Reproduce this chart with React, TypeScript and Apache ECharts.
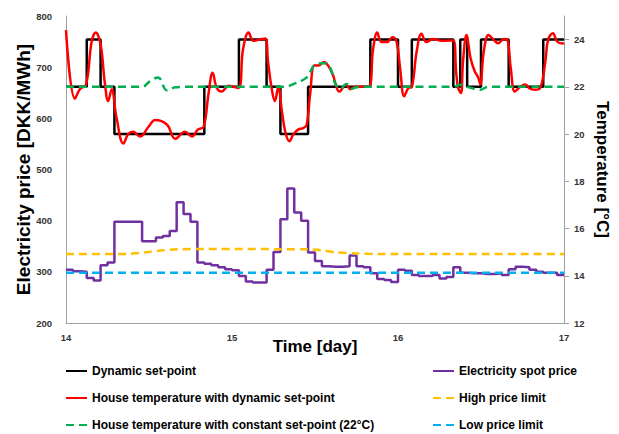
import React, { useEffect, useRef } from 'react';
import * as echarts from 'echarts';

const DAY0 = 14;
const xTicks = [14, 15, 16, 17];
const priceTicks = [200, 300, 400, 500, 600, 700, 800];
const tempTicks = [12, 14, 16, 18, 20, 22, 24];

// Dynamic set-point (hours from day 14, °C) – held until next change
const setpointHours = [0, 3, 5, 7, 20, 25, 29, 31, 35, 44, 48, 50, 56, 57, 58, 60, 64, 69, 72];
const setpointTemps = [22, 24, 22, 20, 22, 24, 22, 20, 22, 24, 22, 24, 22, 24, 22, 24, 22, 24, 24];

// House temperature with dynamic set-point
const houseDynHours = [0, 1.3, 2, 2.9, 3.7, 4.3, 5, 5.6, 6.1, 6.6, 7.3, 8.3, 9, 9.7, 10.7, 11.9, 12.9, 14.6, 15.8, 17.2, 18.2, 19.1, 19.9, 20.6, 21.2, 21.8, 22.5, 23.5, 24.9, 25.6, 26.4, 27.1, 28, 28.8, 29.2, 29.7, 30.2, 30.7, 31.2, 31.7, 32.3, 32.9, 33.6, 34.3, 34.8, 35.3, 35.9, 36.5, 37.3, 37.9, 38.6, 39, 39.5, 40.5, 41.1, 41.8, 43.7, 44.4, 45, 45.6, 46.4, 47.2, 47.8, 48.3, 48.9, 49.5, 50, 50.7, 51.4, 52.1, 53.1, 54.3, 56, 56.4, 56.7, 57.1, 57.4, 57.9, 58.5, 59.1, 59.6, 59.9, 60.4, 61.1, 61.8, 62.5, 63.3, 63.8, 64.3, 64.9, 65.6, 66.4, 67.1, 67.8, 68.6, 69.3, 69.7, 70.4, 71, 71.8, 72];
const houseDynTemps = [24.4, 21.5, 21.9, 22.1, 23.9, 24.3, 23.8, 22.2, 21.4, 21.9, 20.7, 19.6, 20.0, 20.1, 19.9, 20.3, 20.6, 20.4, 19.8, 20.1, 19.9, 20.2, 20.3, 21.7, 22.6, 21.95, 21.8, 22.05, 21.95, 23.6, 24.3, 23.95, 24.0, 24.05, 23.1, 22.0, 21.4, 22.0, 21.0, 20.1, 19.7, 20.0, 20.2, 20.25, 20.4, 21.7, 22.9, 22.9, 23.05, 22.9, 22.5, 22.1, 21.8, 22.1, 21.9, 22.0, 22.0, 23.6, 24.3, 23.9, 23.9, 24.1, 23.9, 22.8, 21.6, 21.95, 22.0, 23.5, 24.25, 23.9, 24.03, 23.95, 23.96, 22.65, 21.95, 21.74, 23.07, 24.2, 23.2, 22.65, 22.4, 22.1, 23.5, 24.2, 24.0, 23.85, 24.03, 24.0, 22.8, 21.8, 21.98, 22.1, 21.92, 21.88, 21.98, 23.07, 24.0, 24.27, 23.92, 23.84, 23.85];

// House temperature with constant set-point (22 °C)
const houseConstHours = [0, 11, 12.1, 13.3, 14.6, 15.8, 17, 31.5, 32.9, 34.8, 36, 37.4, 38.2, 38.9, 39.6, 40.6, 41.3, 42, 43, 56, 57, 58, 59.9, 61, 72];
const houseConstTemps = [22, 22, 22.23, 22.4, 21.85, 21.98, 22, 22, 22.12, 22.4, 22.93, 23.0, 22.8, 22.16, 21.92, 22.12, 21.92, 21.98, 22, 22, 22.09, 22.0, 21.88, 22, 22];

// Electricity spot price, hourly (DKK/MWh)
const spotPrice = [304, 301, 300, 288, 283, 313, 318, 398, 398, 398, 398, 360, 360, 367, 370, 380, 436, 413, 398, 318, 316, 313, 309, 305,
  303, 292, 281, 279, 279, 304, 339, 403, 463, 416, 400, 338, 321, 311, 310, 310, 311, 332, 311, 309, 297, 286, 284, 280,
  304, 302, 294, 292, 292, 294, 287, 290, 309, 298, 297, 297, 296, 296, 297, 294, 305, 310, 309, 304, 300, 298, 298, 294];

// Price limits
const highLimitHours = [0, 9, 10.5, 12, 14, 16, 20, 35, 37, 39, 42, 45, 72];
const highLimitValues = [335, 335, 337, 339, 342, 344, 344.5, 344, 342, 338, 336, 335, 335];
const lowLimitHours = [0, 72];
const lowLimitValues = [298, 298];

const FONT = 'Liberation Sans, Arial, sans-serif';

const toDay = (h: number) => DAY0 + h / 24;
const pairs = (hs: number[], vs: number[]) => hs.map((h, i) => [toDay(h), vs[i]]);

export default function App() {
  const ref = useRef<HTMLDivElement>(null);
  useEffect(() => {
    document.body.style.margin = '0';
    if (!ref.current) return;
    const chart = echarts.init(ref.current, null, { renderer: 'svg' });
    const priceData = spotPrice.map((v, i) => [toDay(i), v]);
    priceData.push([toDay(spotPrice.length), spotPrice[spotPrice.length - 1]]);

    const axisLabelStyle = { fontFamily: FONT, fontWeight: 'bold' as const, fontSize: 9.5, color: '#333' };
    const dashed = [8, 5];
    const legendCommon = {
      orient: 'vertical', top: 365, height: 80, padding: 0,
      itemWidth: 21, itemHeight: 12, itemGap: 15,
      itemStyle: { opacity: 0 },
      textStyle: { fontFamily: FONT, fontWeight: 'bold', fontSize: 12, color: '#000' },
    };

    chart.setOption({
      animation: false,
      textStyle: { fontFamily: FONT },
      grid: { left: 66, right: 55, top: 16, bottom: 111, containLabel: false },
      legend: [
        {
          ...legendCommon,
          data: ['Dynamic set-point', 'House temperature with dynamic set-point', 'House temperature with constant set-point (22°C)'],
          left: 65,
        },
        {
          ...legendCommon,
          data: ['Electricity spot price', 'High price limit', 'Low price limit'],
          left: 432,
        },
      ],
      xAxis: {
        type: 'value', min: xTicks[0], max: xTicks[xTicks.length - 1], interval: 1,
        name: 'Time [day]', nameLocation: 'middle', nameGap: 15, nameMoveOverlap: false,
        nameTextStyle: { fontFamily: FONT, fontWeight: 'bold', fontSize: 17, color: '#000' },
        axisLine: { lineStyle: { color: '#a0a0a0', width: 1 } },
        axisTick: { show: false },
        axisLabel: { ...axisLabelStyle, margin: 9 },
        splitLine: { show: false },
      },
      yAxis: [
        {
          type: 'value', min: priceTicks[0], max: priceTicks[priceTicks.length - 1], interval: 100,
          name: 'Electricity price [DKK/MWh]', nameLocation: 'middle', nameGap: 33, nameMoveOverlap: false,
          nameTextStyle: { fontFamily: FONT, fontWeight: 'bold', fontSize: 19, color: '#000' },
          axisLine: { show: true, lineStyle: { color: '#a0a0a0', width: 1 } },
          axisTick: { show: false },
          axisLabel: { ...axisLabelStyle, margin: 14 },
          splitLine: { show: false },
        },
        {
          type: 'value', position: 'right', min: 12, max: 25, interval: 2,
          name: 'Temperature [°C]', nameLocation: 'middle', nameGap: 30, nameRotate: -90, nameMoveOverlap: false,
          nameTextStyle: { fontFamily: FONT, fontWeight: 'bold', fontSize: 17, color: '#000' },
          axisLine: { show: true, lineStyle: { color: '#a0a0a0', width: 1 } },
          axisTick: { show: true, length: 5, inside: false, lineStyle: { color: '#a0a0a0' }, customValues: tempTicks },
          axisLabel: { ...axisLabelStyle, margin: 10, customValues: tempTicks },
          splitLine: { show: false },
        },
      ],
      series: [
        {
          name: 'Electricity spot price', type: 'line', yAxisIndex: 0, step: 'end', symbol: 'none',
          data: priceData, lineStyle: { color: '#7030a0', width: 2.5 }, itemStyle: { color: '#7030a0' },
        },
        {
          name: 'High price limit', type: 'line', yAxisIndex: 0, symbol: 'none', smooth: 0.3,
          data: pairs(highLimitHours, highLimitValues),
          lineStyle: { color: '#ffc000', width: 2.5, type: dashed }, itemStyle: { color: '#ffc000' },
        },
        {
          name: 'Low price limit', type: 'line', yAxisIndex: 0, symbol: 'none',
          data: pairs(lowLimitHours, lowLimitValues),
          lineStyle: { color: '#00b0f0', width: 2.5, type: dashed }, itemStyle: { color: '#00b0f0' },
        },
        {
          name: 'Dynamic set-point', type: 'line', yAxisIndex: 1, step: 'end', symbol: 'none',
          data: pairs(setpointHours, setpointTemps),
          lineStyle: { color: '#000000', width: 2.5 }, itemStyle: { color: '#000000' },
        },
        {
          name: 'House temperature with dynamic set-point', type: 'line', yAxisIndex: 1, symbol: 'none', smooth: 0.4,
          data: pairs(houseDynHours, houseDynTemps),
          lineStyle: { color: '#ff0000', width: 2.5 }, itemStyle: { color: '#ff0000' },
        },
        {
          name: 'House temperature with constant set-point (22°C)', type: 'line', yAxisIndex: 1, symbol: 'none', smooth: 0.4,
          data: pairs(houseConstHours, houseConstTemps),
          lineStyle: { color: '#00b050', width: 2.5, type: dashed }, itemStyle: { color: '#00b050' },
        },
      ],
    });
    return () => chart.dispose();
  }, []);
  return <div ref={ref} style={{ width: 619, height: 434 }} />;
}
